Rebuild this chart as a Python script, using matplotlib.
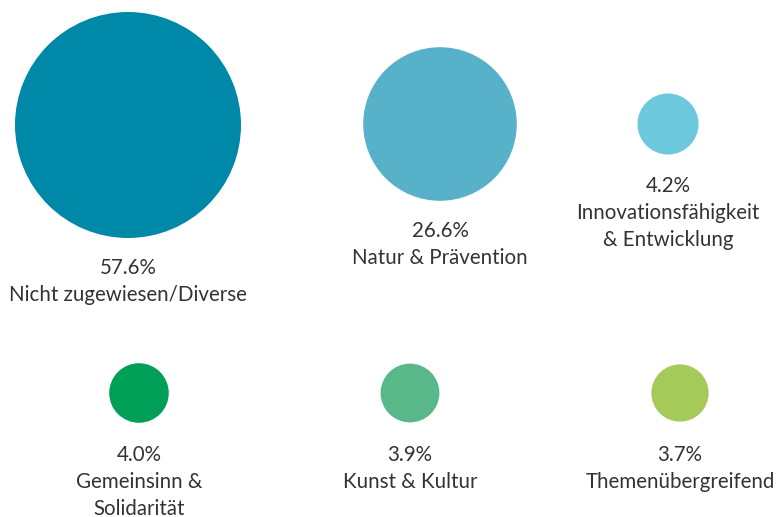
import matplotlib.pyplot as plt
from matplotlib.patches import Circle
import numpy as np

# Anteile je Themenbereich
categories = ["Nicht zugewiesen/Diverse", "Natur & Prävention", "Innovationsfähigkeit\n& Entwicklung",
              "Gemeinsinn &\nSolidarität", "Kunst & Kultur", "Themenübergreifend"]
values = [57.6, 26.6, 4.2, 4.0, 3.9, 3.7]
labels = ["57.6%", "26.6%", "4.2%", "4.0%", "3.9%", "3.7%"]
colors = ["#0088A8", "#56B1C9", "#6CC8DD", "#009F58", "#59B88A", "#A5CA5A"]

# layout in pixel coordinates
cx = [128, 440, 668, 139, 410, 680]
cy = [125, 124, 124, 393, 393, 393]
label_y = [268, 231, 186, 455, 455, 455]
line_gap = 27

fig = plt.figure(figsize=(7.78, 5.17), dpi=100)
ax = fig.add_axes([0, 0, 1, 1])
ax.set_xlim(0, 778)
ax.set_ylim(517, 0)
ax.set_aspect("equal")
ax.axis("off")

scale = 113 / np.sqrt(max(values))
font = "Lato"
for i in range(len(values)):
	r = scale * np.sqrt(values[i])
	ax.add_patch(Circle((cx[i], cy[i]), r, color=colors[i], lw=0))
	lines = [labels[i]] + categories[i].split("\n")
	for k, line in enumerate(lines):
		ax.text(cx[i], label_y[i] + k * line_gap, line, ha="center", va="center",
				fontsize=14.8, color="#333333", family=font)

fig.savefig("out.png", dpi=100)
